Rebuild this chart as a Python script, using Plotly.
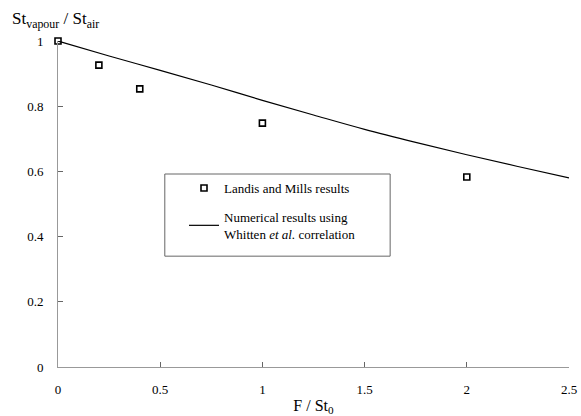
import plotly.graph_objects as go

# Landis and Mills measurements
lm_x = [0.0, 0.2, 0.4, 1.0, 2.0]
lm_y = [1.0, 0.926, 0.853, 0.748, 0.583]

# Numerical results using the Whitten et al. correlation
num_x = [0.0, 0.25, 0.5, 0.75, 1.0, 1.25, 1.5, 1.75, 2.0, 2.25, 2.5]
num_y = [1.0, 0.954, 0.910, 0.865, 0.818, 0.773, 0.729, 0.689, 0.651, 0.615, 0.580]

x_ticks = [0, 0.5, 1, 1.5, 2, 2.5]
x_tick_text = ["0", "0.5", "1", "1.5", "2", "2.5"]
y_ticks = [0, 0.2, 0.4, 0.6, 0.8, 1]
y_tick_text = ["0", "0.2", "0.4", "0.6", "0.8", "1"]

serif = "Times New Roman, Times, serif"

fig = go.Figure()
fig.add_trace(go.Scatter(
    x=lm_x, y=lm_y, mode="markers", name="Landis and Mills results",
    legendgroup="exp",
    marker=dict(symbol="square-open", size=6, color="black",
                line=dict(width=1.6, color="black")),
    cliponaxis=False,
))
fig.add_trace(go.Scatter(
    x=num_x, y=num_y, mode="lines", line_shape="spline",
    name="Numerical results using<br>Whitten <i>et al.</i> correlation",
    legendgroup="num",
    line=dict(color="black", width=1.2),
    cliponaxis=False,
))

# frame drawn around the legend entries
legend_box = dict(type="rect", xref="paper", yref="paper",
                  x0=0.209, x1=0.650, y0=0.340, y1=0.592,
                  line=dict(color="#666666", width=1), fillcolor="white",
                  layer="below")

fig.update_layout(
    width=581, height=416,
    margin=dict(l=58, r=12, t=41, b=49),
    paper_bgcolor="white", plot_bgcolor="white",
    font=dict(family=serif, size=13, color="black"),
    showlegend=True,
    legend=dict(
        x=(184 - 58) / 511, y=0.595, xanchor="left", yanchor="top",
        borderwidth=0, bgcolor="rgba(0,0,0,0)",
        font=dict(family=serif, size=13),
        itemwidth=30, traceorder="grouped", tracegroupgap=9,
    ),
    shapes=[legend_box],
    xaxis=dict(
        range=[0, 2.5], tickvals=x_ticks, ticktext=x_tick_text,
        showgrid=False, zeroline=False, showline=True, automargin=False,
        linecolor="#999999", linewidth=1,
        ticks="inside", ticklen=5, tickcolor="#666666",
        tickfont=dict(family=serif, size=13), ticklabelstandoff=10,
        title=dict(text="F / St<sub>0</sub>", font=dict(family=serif, size=16), standoff=12),
    ),
    yaxis=dict(
        range=[0, 1], tickvals=y_ticks, ticktext=y_tick_text,
        showgrid=False, zeroline=False, showline=True, automargin=False,
        linecolor="#999999", linewidth=1,
        ticks="inside", ticklen=5, tickcolor="#666666",
        tickfont=dict(family=serif, size=13), ticklabelstandoff=11,
    ),
    annotations=[dict(
        text="St<sub>vapour</sub> / St<sub>air</sub>",
        xref="paper", yref="paper", x=-0.094, y=1.0, xanchor="left", yanchor="bottom",
        yshift=8, showarrow=False, font=dict(family=serif, size=17),
    )],
)

fig.write_html("out.html")
